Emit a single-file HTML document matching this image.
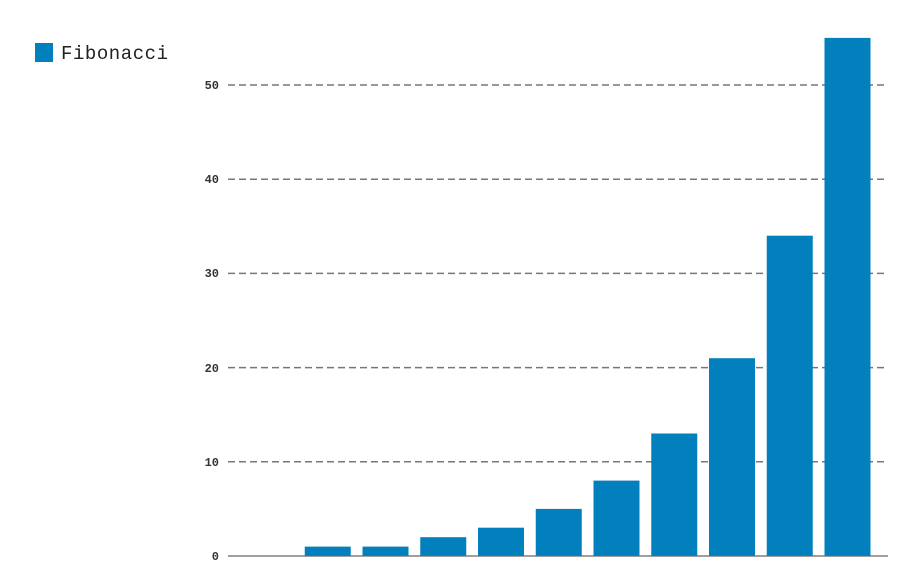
<!DOCTYPE html>
<html><head><style>body{margin:0;background:#fff}</style></head><body>
<svg width="902" height="579" xmlns="http://www.w3.org/2000/svg" font-family="Liberation Mono, monospace">
<rect x="35" y="43" width="18" height="19" fill="#0280be"/>
<text x="61" y="59" font-size="19" fill="#222" textLength="107">Fibonacci</text>
<g stroke="#777" stroke-width="1.5" stroke-dasharray="7,4">
<line x1="228" y1="85" x2="885" y2="85"/>
<line x1="228" y1="179.2" x2="885" y2="179.2"/>
<line x1="228" y1="273.4" x2="885" y2="273.4"/>
<line x1="228" y1="367.6" x2="885" y2="367.6"/>
<line x1="228" y1="461.8" x2="885" y2="461.8"/>
</g>
<g font-size="12" fill="#333" text-anchor="end" font-weight="bold">
<text x="219" y="89">50</text><text x="219" y="183">40</text><text x="219" y="277">30</text>
<text x="219" y="372">20</text><text x="219" y="466">10</text><text x="219" y="560">0</text>
</g>
<g fill="#0280be">
<rect x="304.75" y="546.6" width="46" height="9.4"/>
<rect x="362.5" y="546.6" width="46" height="9.4"/>
<rect x="420.25" y="537.2" width="46" height="18.8"/>
<rect x="478" y="527.7" width="46" height="28.3"/>
<rect x="535.75" y="508.9" width="46" height="47.1"/>
<rect x="593.5" y="480.6" width="46" height="75.4"/>
<rect x="651.25" y="433.5" width="46" height="122.5"/>
<rect x="709" y="358.2" width="46" height="197.8"/>
<rect x="766.75" y="235.7" width="46" height="320.3"/>
<rect x="824.5" y="37.9" width="46" height="518.1"/>
</g>
<line x1="228" y1="556" x2="888" y2="556" stroke="#666" stroke-width="1.2"/>
</svg>
</body></html>
